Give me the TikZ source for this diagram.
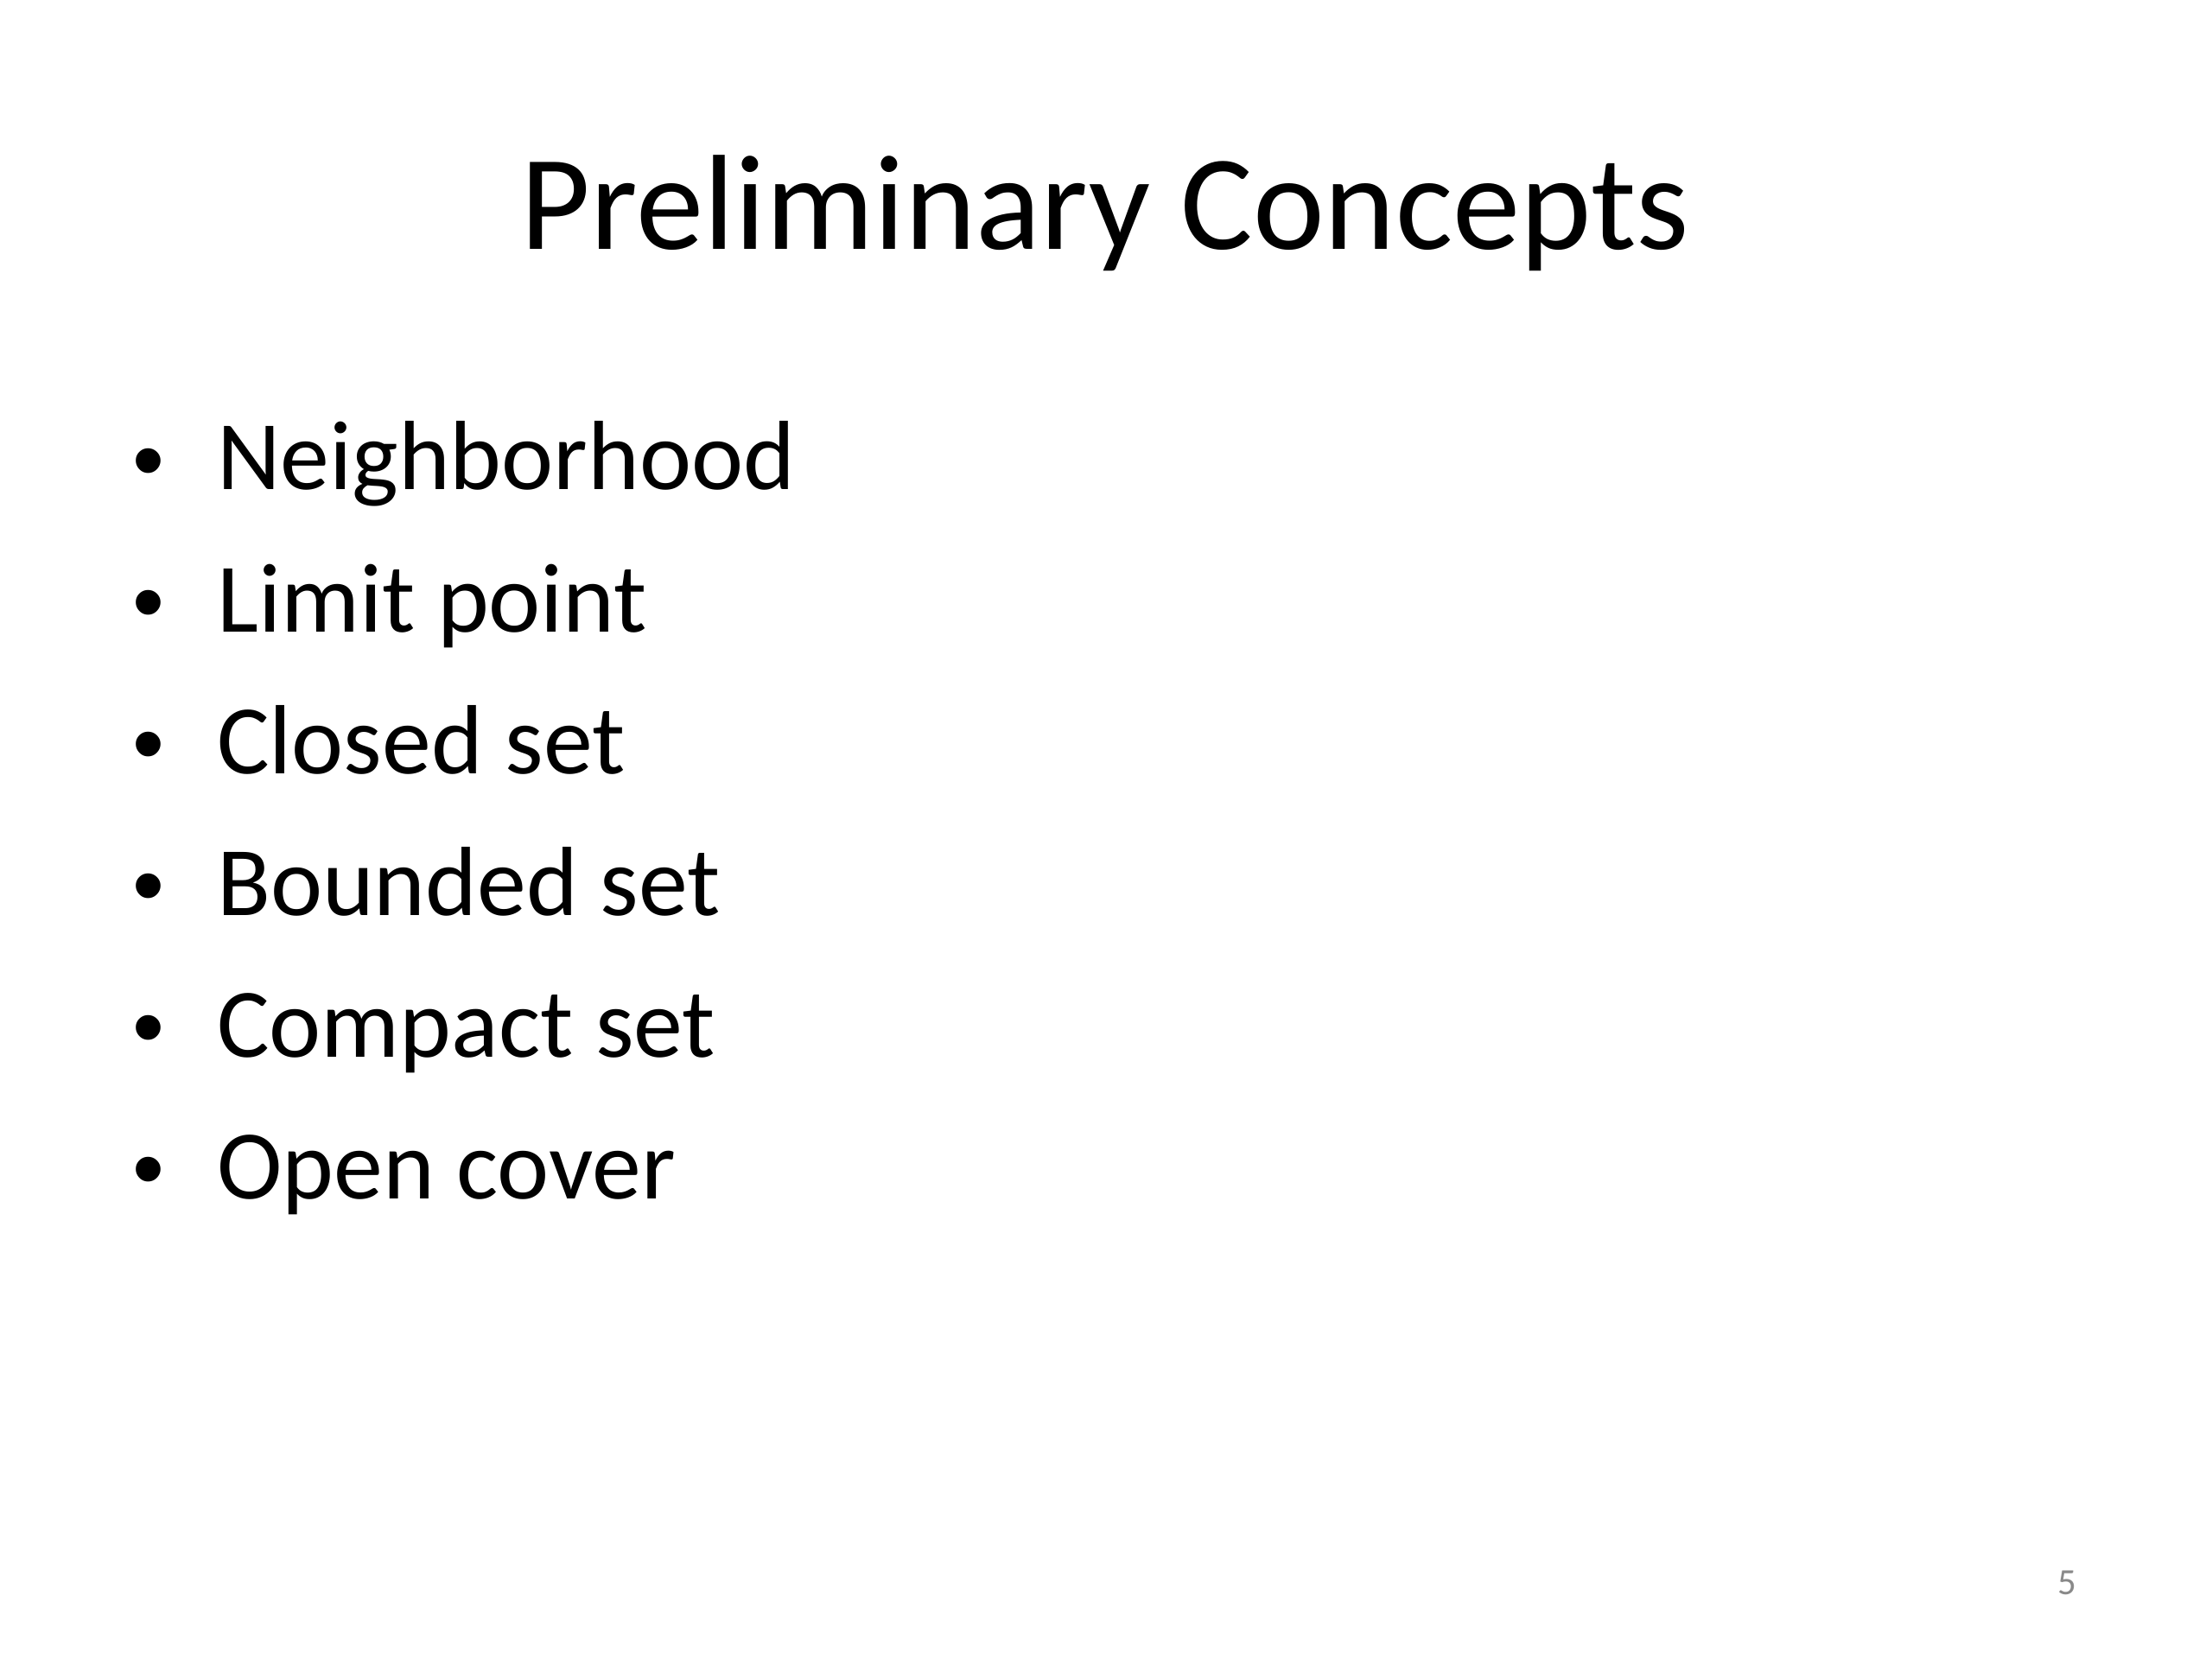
\documentclass[tikz,border=0pt]{standalone}
\usepackage{fontspec}
\setmainfont{Carlito}
\newfontfamily\bulletfont{Liberation Sans}
\definecolor{pagegray}{HTML}{898989}
\begin{document}
\begin{tikzpicture}[
  titletext/.style={anchor=base, inner sep=0pt, font=\fontsize{44.6pt}{53pt}\selectfont},
  itemtext/.style={anchor=base west, inner sep=0pt, font=\fontsize{32.4pt}{39pt}\selectfont},
  bulletdot/.style={anchor=center, inner sep=0pt, font=\bulletfont\fontsize{30pt}{36pt}\selectfont},
  pagenum/.style={anchor=base east, inner sep=0pt, text=pagegray, font=\fontsize{12.2pt}{14pt}\selectfont}
]
\useasboundingbox[fill=white] (0,0) rectangle (25.6,-19.2);
\node[titletext] (title) at (12.79,-2.89) {Preliminary Concepts};
\foreach \i/\t in {0/Neighborhood, 1/Limit point, 2/Closed set, 3/Bounded set, 4/Compact set, 5/Open cover} {
  \node[bulletdot] (b\i) at (1.715,{-5.44-1.64*\i}) {•};
  \node[itemtext] (t\i) at (2.505,{-5.67-1.64*\i}) {\t};
}
\node[pagenum] (num) at (24.04,-18.45) {5};
\end{tikzpicture}
\end{document}
